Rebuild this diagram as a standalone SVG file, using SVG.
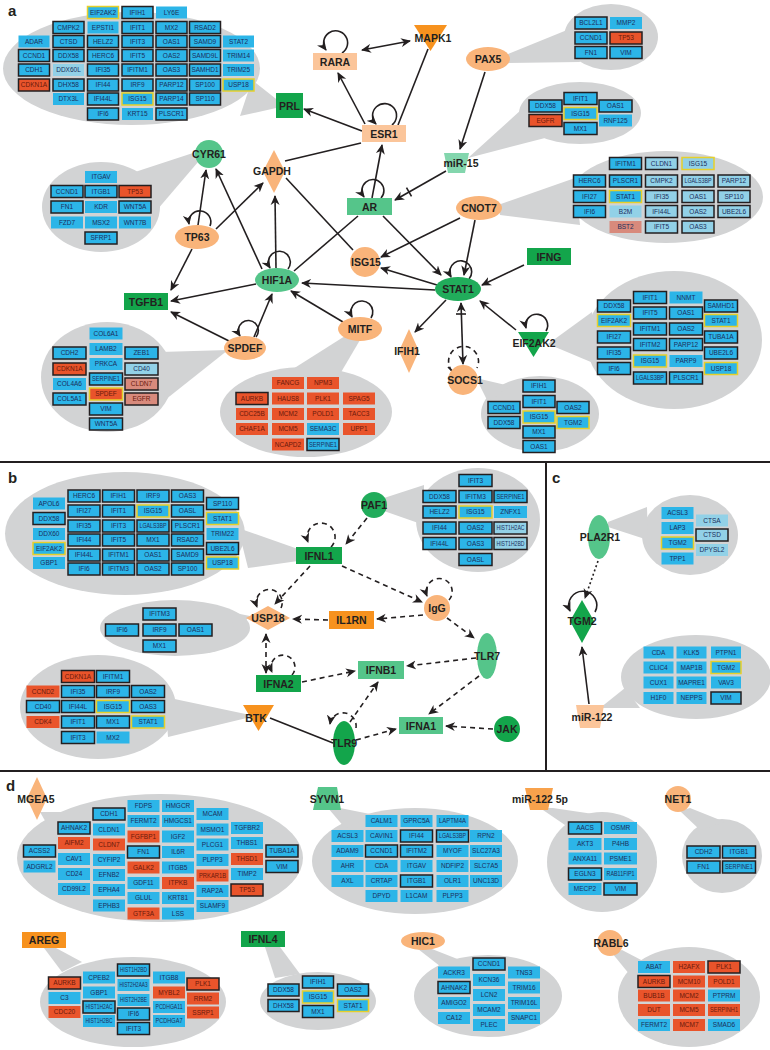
<svg xmlns="http://www.w3.org/2000/svg" width="770" height="1050" viewBox="0 0 770 1050">
<style>
.bub{fill:#d2d3d4}
.b{fill:#2cb5e8}.l{fill:#92d1e7}.r{fill:#e9542b}.s{fill:#d88a7c}
.k{stroke:#231f20;stroke-width:1.5}.y{stroke:#e6d02a;stroke-width:1.5}
g.c text{font-family:"Liberation Sans",Arial,sans-serif;font-size:6.5px;fill:#1b2f5c;text-anchor:middle}
g.c text.w{fill:#6a1a0c}
.n{font-family:"Liberation Sans",Arial,sans-serif;font-size:10.5px;font-weight:bold;fill:#231f20;text-anchor:middle}
.p{font-family:"Liberation Sans",Arial,sans-serif;font-size:15px;font-weight:bold;fill:#231f20}
.e{stroke:#231f20;stroke-width:1.6;fill:none}
.d{stroke-dasharray:5 4}
.o{stroke-dasharray:2 2.5}
.m{marker-end:url(#ah)}
.mm{marker-start:url(#ah);marker-end:url(#ah)}
.dv{stroke:#231f20;stroke-width:2}
.pe{fill:#fbc59a}.or{fill:#f9b47a}.os{fill:#f7921e}.dg{fill:#13a54b}.sg{fill:#21ac5b}.mg{fill:#55c58a}.lg{fill:#83d6ad}.o5{fill:#f8a24c}
</style>
<defs>
<marker id="ah" viewBox="0 0 10 10" refX="9" refY="5" markerWidth="10" markerHeight="10" markerUnits="userSpaceOnUse" orient="auto-start-reverse"><path d="M0,0.5L10,5L0,9.5L3,5z" fill="#231f20"/></marker>
</defs>
<rect width="770" height="1050" fill="#ffffff"/>
<g id="dividers">
<line class="dv" x1="0" y1="462" x2="770" y2="462"/>
<line class="dv" x1="546" y1="462" x2="546" y2="771"/>
<line class="dv" x1="0" y1="771" x2="770" y2="771"/>
</g>
<g id="panel-labels">
<text class="p" x="8" y="16">a</text>
<text class="p" x="8" y="483">b</text>
<text class="p" x="552" y="483">c</text>
<text class="p" x="6" y="791">d</text>
</g>
<g id="connectors">
<path class="e mm" d="M362,50L410,41"/>
<path class="e m" d="M342,53A12,12 0 1 0 326,50"/>
<path class="e m" d="M392,125A12,12 0 1 0 376,124"/>
<path class="e m" d="M365,124L338,73"/>
<path class="e" d="M398,125L428,49"/>
<path class="e m" d="M362,131L304,109"/>
<path class="e m" d="M485,72L460,149"/>
<path class="e m" d="M446,171L395,200"/>
<path class="e" d="M406.5,187.7L411.5,196.3"/>
<path class="e m" d="M381,198A11,11 0 1 0 364,197"/>
<path class="e m" d="M372,198L382,145"/>
<path class="e m" d="M383,216L441,275"/>
<path class="e" d="M358,216L294,271"/>
<path class="e" d="M285,161L361,143"/>
<path class="e" d="M286,178L353,250"/>
<path class="e m" d="M210,226A11,11 0 1 0 189,224"/>
<path class="e m" d="M198,225L206,170"/>
<path class="e m" d="M216,229L263,183"/>
<path class="e m" d="M192,249L171,290"/>
<path class="e m" d="M288,269A11,11 0 1 0 270,268"/>
<path class="e m" d="M276,268L275,196"/>
<path class="e m" d="M262,269L216,169"/>
<path class="e m" d="M256,284L171,301"/>
<path class="e m" d="M435,290L302,283"/>
<path class="e m" d="M254,337L272,294"/>
<path class="e m" d="M256,337A10,10 0 1 0 240,336"/>
<path class="e m" d="M229,341L171,312"/>
<path class="e m" d="M371,318A11,11 0 1 0 352,317"/>
<path class="e m" d="M343,322L291,291"/>
<path class="e m" d="M460,218L381,257"/>
<path class="e m" d="M475,220L464,275"/>
<path class="e m" d="M437,285L381,268"/>
<path class="e m" d="M524,265L482,285"/>
<path class="e m" d="M469,279A11,11 0 1 0 451,277"/>
<path class="e m" d="M446,300L415,332"/>
<path class="e mm" d="M461,303L463,364"/>
<path class="e" d="M456,314L466,314"/>
<path class="e d" d="M452,371A15,15 0 1 1 477,368"/>
<path class="e" d="M448,367L455,374"/>
<path class="e m" d="M546,331A11,11 0 1 0 526,328"/>
<path class="e m" d="M516,330L480,301"/>
<path class="e d m" d="M331,547A14,14 0 1 0 308,542"/>
<path class="e d m" d="M367,518L346,544"/>
<path class="e d m" d="M342,566L422,602"/>
<path class="e d m" d="M449,600A13,13 0 1 0 427,596"/>
<path class="e d m" d="M423,615L377,619"/>
<path class="e d m" d="M328,620L293,619"/>
<path class="e d m" d="M310,566L275,604"/>
<path class="e d m" d="M281,608A13,13 0 1 0 257,607"/>
<path class="e d mm" d="M266,634L266,673"/>
<path class="e d m" d="M292,675A12,12 0 1 0 272,672"/>
<path class="e d m" d="M302,682L355,671"/>
<path class="e d m" d="M476,658L407,666"/>
<path class="e d m" d="M447,618L474,638"/>
<path class="e d m" d="M479,676L429,714"/>
<path class="e d m" d="M493,729L446,726"/>
<path class="e d m" d="M356,728A13,13 0 1 0 330,724"/>
<path class="e d m" d="M350,722L378,682"/>
<path class="e d m" d="M356,740L396,729"/>
<path class="e" d="M270,718L333,743"/>
<path class="e o m" d="M598,561L585,598"/>
<path class="e m" d="M595,612A14,14 0 1 0 570,611"/>
<path class="e m" d="M589,704L582,647"/>
</g>

<g id="node-PRL">
<g class="c">
<ellipse class="bub" cx="131.5" cy="68.5" rx="128.5" ry="56.5"/><polygon class="bub" points="252,80 240,116 285,106"/>
<g transform="translate(34,0)">
<rect class="b" x="-15.5" y="35.5" width="31" height="12"/><text y="43.8">ADAR</text>
<rect class="b k" x="-15.5" y="49.5" width="31" height="12"/><text y="57.8">CCND1</text>
<rect class="b k" x="-15.5" y="64" width="31" height="12"/><text y="72.3">CDH1</text>
<rect class="r k" x="-15.5" y="79" width="31" height="12"/><text class="w" y="87.3">CDKN1A</text>
</g>
<g transform="translate(68.5,0)">
<rect class="b k" x="-15.5" y="21.5" width="31" height="12"/><text y="29.8">CMPK2</text>
<rect class="b k" x="-15.5" y="35.5" width="31" height="12"/><text y="43.8">CTSD</text>
<rect class="b k" x="-15.5" y="49.5" width="31" height="12"/><text y="57.8">DDX58</text>
<rect class="l" x="-15.5" y="64" width="31" height="12"/><text y="72.3">DDX60L</text>
<rect class="b k" x="-15.5" y="79" width="31" height="12"/><text y="87.3">DHX58</text>
<rect class="b" x="-15.5" y="93" width="31" height="12"/><text y="101.3">DTX3L</text>
</g>
<g transform="translate(103,0)">
<rect class="b y" x="-15.5" y="6.5" width="31" height="12"/><text y="14.8">EIF2AK2</text>
<rect class="b" x="-15.5" y="21.5" width="31" height="12"/><text y="29.8">EPSTI1</text>
<rect class="b k" x="-15.5" y="35.5" width="31" height="12"/><text y="43.8">HELZ2</text>
<rect class="b k" x="-15.5" y="49.5" width="31" height="12"/><text y="57.8">HERC6</text>
<rect class="b k" x="-15.5" y="64" width="31" height="12"/><text y="72.3">IFI35</text>
<rect class="b k" x="-15.5" y="79" width="31" height="12"/><text y="87.3">IFI44</text>
<rect class="b k" x="-15.5" y="93" width="31" height="12"/><text y="101.3">IFI44L</text>
<rect class="b k" x="-15.5" y="108" width="31" height="12"/><text y="116.3">IFI6</text>
</g>
<g transform="translate(137.5,0)">
<rect class="b k" x="-15.5" y="6.5" width="31" height="12"/><text y="14.8">IFIH1</text>
<rect class="b k" x="-15.5" y="21.5" width="31" height="12"/><text y="29.8">IFIT1</text>
<rect class="b k" x="-15.5" y="35.5" width="31" height="12"/><text y="43.8">IFIT3</text>
<rect class="b k" x="-15.5" y="49.5" width="31" height="12"/><text y="57.8">IFIT5</text>
<rect class="b k" x="-15.5" y="64" width="31" height="12"/><text y="72.3">IFITM1</text>
<rect class="b k" x="-15.5" y="79" width="31" height="12"/><text y="87.3">IRF9</text>
<rect class="b y" x="-15.5" y="93" width="31" height="12"/><text y="101.3">ISG15</text>
<rect class="b" x="-15.5" y="108" width="31" height="12"/><text y="116.3">KRT15</text>
</g>
<g transform="translate(171.5,0)">
<rect class="b" x="-15.5" y="6.5" width="31" height="12"/><text y="14.8">LY6E</text>
<rect class="b k" x="-15.5" y="21.5" width="31" height="12"/><text y="29.8">MX2</text>
<rect class="b k" x="-15.5" y="35.5" width="31" height="12"/><text y="43.8">OAS1</text>
<rect class="b k" x="-15.5" y="49.5" width="31" height="12"/><text y="57.8">OAS2</text>
<rect class="b k" x="-15.5" y="64" width="31" height="12"/><text y="72.3">OAS3</text>
<rect class="b k" x="-15.5" y="79" width="31" height="12"/><text y="87.3">PARP12</text>
<rect class="b k" x="-15.5" y="93" width="31" height="12"/><text y="101.3">PARP14</text>
<rect class="b k" x="-15.5" y="108" width="31" height="12"/><text y="116.3">PLSCR1</text>
</g>
<g transform="translate(205,0)">
<rect class="b k" x="-15.5" y="21.5" width="31" height="12"/><text y="29.8">RSAD2</text>
<rect class="b k" x="-15.5" y="35.5" width="31" height="12"/><text y="43.8">SAMD9</text>
<rect class="b k" x="-15.5" y="49.5" width="31" height="12"/><text y="57.8">SAMD9L</text>
<rect class="b k" x="-15.5" y="64" width="31" height="12"/><text y="72.3">SAMHD1</text>
<rect class="b k" x="-15.5" y="79" width="31" height="12"/><text y="87.3">SP100</text>
<rect class="b k" x="-15.5" y="93" width="31" height="12"/><text y="101.3">SP110</text>
</g>
<g transform="translate(238.5,0)">
<rect class="b" x="-15.5" y="35.5" width="31" height="12"/><text y="43.8">STAT2</text>
<rect class="b" x="-15.5" y="49.5" width="31" height="12"/><text y="57.8">TRIM14</text>
<rect class="b" x="-15.5" y="64" width="31" height="12"/><text y="72.3">TRIM25</text>
<rect class="b y" x="-15.5" y="79" width="31" height="12"/><text y="87.3">USP18</text>
</g>
</g>
<rect class="dg" x="276" y="93" width="27" height="25"/><text class="n" x="289.5" y="109.5">PRL</text>
</g>

<g id="node-RARA"><rect class="pe" x="313" y="53" width="44" height="17"/><text class="n" x="335" y="65.5">RARA</text></g>
<g id="node-MAPK1"><polygon class="os" points="414,25 447,25 430.5,51"/><text class="n" x="433" y="42">MAPK1</text></g>
<g id="node-ESR1"><rect class="pe" x="362" y="125" width="44" height="17"/><text class="n" x="384" y="137.5">ESR1</text></g>

<g id="node-PAX5">
<g class="c">
<ellipse class="bub" cx="611" cy="37" rx="47" ry="33"/><polygon class="bub" points="508,54 572,28 580,62 508,63"/>
<g transform="translate(591,0)">
<rect class="b k" x="-16" y="17" width="32" height="12"/><text y="25.3">BCL2L1</text>
<rect class="b k" x="-16" y="32" width="32" height="12"/><text y="40.3">CCND1</text>
<rect class="b k" x="-16" y="46.5" width="32" height="12"/><text y="54.8">FN1</text>
</g>
<g transform="translate(626,0)">
<rect class="b" x="-16" y="17" width="32" height="12"/><text y="25.3">MMP2</text>
<rect class="r k" x="-16" y="32" width="32" height="12"/><text class="w" y="40.3">TP53</text>
<rect class="b k" x="-16" y="46.5" width="32" height="12"/><text y="54.8">VIM</text>
</g>
</g>
<ellipse class="or" cx="488" cy="59" rx="22" ry="12"/><text class="n" x="488" y="63">PAX5</text>
</g>

<g id="node-miR-15">
<g class="c">
<ellipse class="bub" cx="580" cy="113" rx="61" ry="31"/><polygon class="bub" points="468,158 532,100 545,138"/>
<g transform="translate(545.5,0)">
<rect class="b k" x="-16.5" y="100" width="33" height="12"/><text y="108.3">DDX58</text>
<rect class="r k" x="-16.5" y="114.5" width="33" height="12"/><text class="w" y="122.8">EGFR</text>
</g>
<g transform="translate(580.5,0)">
<rect class="b k" x="-16.5" y="92.5" width="33" height="12"/><text y="100.8">IFIT1</text>
<rect class="b y" x="-16.5" y="107.5" width="33" height="12"/><text y="115.8">ISG15</text>
<rect class="b k" x="-16.5" y="122.5" width="33" height="12"/><text y="130.8">MX1</text>
</g>
<g transform="translate(615.5,0)">
<rect class="b k" x="-16.5" y="100" width="33" height="12"/><text y="108.3">OAS1</text>
<rect class="b" x="-16.5" y="114.5" width="33" height="12"/><text y="122.8">RNF125</text>
</g>
</g>
<polygon class="lg" points="444,153 469,153 465,173 448,173"/><text class="n" x="461" y="167">miR-15</text>
</g>

<g id="node-AR"><rect class="mg" x="347" y="198" width="45" height="17"/><text class="n" x="369.5" y="210.5">AR</text></g>
<g id="node-GAPDH"><polygon class="or" points="274,150 285,171.5 274,193 263,171.5"/><text class="n" x="272" y="175">GAPDH</text></g>

<g id="node-CNOT7">
<g class="c">
<ellipse class="bub" cx="666" cy="197" rx="97" ry="46"/><polygon class="bub" points="498,205 575,178 580,225 500,215"/>
<g transform="translate(589.5,0)">
<rect class="b k" x="-16" y="175" width="32" height="12"/><text y="183.3">HERC6</text>
<rect class="b k" x="-16" y="190.5" width="32" height="12"/><text y="198.8">IFI27</text>
<rect class="b k" x="-16" y="205.5" width="32" height="12"/><text y="213.8">IFI6</text>
</g>
<g transform="translate(625.5,0)">
<rect class="b k" x="-16" y="157.5" width="32" height="12"/><text y="165.8">IFITM1</text>
<rect class="b k" x="-16" y="175" width="32" height="12"/><text y="183.3">PLSCR1</text>
<rect class="b y" x="-16" y="190.5" width="32" height="12"/><text y="198.8">STAT1</text>
<rect class="l" x="-16" y="205.5" width="32" height="12"/><text y="213.8">B2M</text>
<rect class="s" x="-16" y="221" width="32" height="12"/><text y="229.3">BST2</text>
</g>
<g transform="translate(661.5,0)">
<rect class="l k" x="-16" y="157.5" width="32" height="12"/><text y="165.8">CLDN1</text>
<rect class="l k" x="-16" y="175" width="32" height="12"/><text y="183.3">CMPK2</text>
<rect class="l k" x="-16" y="190.5" width="32" height="12"/><text y="198.8">IFI35</text>
<rect class="l k" x="-16" y="205.5" width="32" height="12"/><text y="213.8">IFI44L</text>
<rect class="l k" x="-16" y="221" width="32" height="12"/><text y="229.3">IFIT5</text>
</g>
<g transform="translate(698,0)">
<rect class="l y" x="-16" y="157.5" width="32" height="12"/><text y="165.8">ISG15</text>
<rect class="l k" x="-16" y="175" width="32" height="12"/><text y="183.3" textLength="27" lengthAdjust="spacingAndGlyphs">LGALS3BP</text>
<rect class="l k" x="-16" y="190.5" width="32" height="12"/><text y="198.8">OAS1</text>
<rect class="l k" x="-16" y="205.5" width="32" height="12"/><text y="213.8">OAS2</text>
<rect class="l k" x="-16" y="221" width="32" height="12"/><text y="229.3">OAS3</text>
</g>
<g transform="translate(734,0)">
<rect class="l k" x="-16" y="175" width="32" height="12"/><text y="183.3">PARP12</text>
<rect class="l k" x="-16" y="190.5" width="32" height="12"/><text y="198.8">SP110</text>
<rect class="l k" x="-16" y="205.5" width="32" height="12"/><text y="213.8">UBE2L6</text>
</g>
</g>
<ellipse class="or" cx="479" cy="208" rx="23" ry="12"/><text class="n" x="479" y="212">CNOT7</text>
</g>

<g id="node-ISG15"><circle class="or" cx="365" cy="262" r="15"/><text class="n" x="366" y="266">ISG15</text></g>
<g id="node-IFNG"><rect class="dg" x="527" y="248" width="44" height="17"/><text class="n" x="549" y="260.5">IFNG</text></g>
<g id="node-STAT1"><ellipse class="sg" cx="458" cy="289" rx="23" ry="12"/><text class="n" x="458" y="293">STAT1</text></g>

<g id="node-CYR61">
<g class="c">
<ellipse class="bub" cx="101" cy="207" rx="59" ry="45"/><polygon class="bub" points="135,172 196,152 198,162 157,210"/>
<g transform="translate(67,0)">
<rect class="b k" x="-16" y="185.5" width="32" height="12"/><text y="193.8">CCND1</text>
<rect class="b k" x="-16" y="201" width="32" height="12"/><text y="209.3">FN1</text>
<rect class="b" x="-16" y="216.5" width="32" height="12"/><text y="224.8">FZD7</text>
</g>
<g transform="translate(101,0)">
<rect class="b" x="-16" y="171" width="32" height="12"/><text y="179.3">ITGAV</text>
<rect class="b k" x="-16" y="185.5" width="32" height="12"/><text y="193.8">ITGB1</text>
<rect class="b" x="-16" y="201" width="32" height="12"/><text y="209.3">KDR</text>
<rect class="b" x="-16" y="216.5" width="32" height="12"/><text y="224.8">MSX2</text>
<rect class="b k" x="-16" y="232" width="32" height="12"/><text y="240.3">SFRP1</text>
</g>
<g transform="translate(135,0)">
<rect class="r k" x="-16" y="185.5" width="32" height="12"/><text class="w" y="193.8">TP53</text>
<rect class="b k" x="-16" y="201" width="32" height="12"/><text y="209.3">WNT5A</text>
<rect class="b" x="-16" y="216.5" width="32" height="12"/><text y="224.8">WNT7B</text>
</g>
</g>
<circle class="mg" cx="209" cy="154" r="14"/><text class="n" x="209" y="158">CYR61</text>
</g>

<g id="node-TP63"><ellipse class="or" cx="197" cy="237" rx="22" ry="12"/><text class="n" x="197" y="241">TP63</text></g>
<g id="node-TGFB1"><rect class="dg" x="124" y="293" width="44" height="17"/><text class="n" x="146" y="305.5">TGFB1</text></g>
<g id="node-HIF1A"><ellipse class="mg" cx="277" cy="280" rx="22" ry="12"/><text class="n" x="277" y="284">HIF1A</text></g>

<g id="node-SPDEF">
<g class="c">
<ellipse class="bub" cx="107" cy="377" rx="66" ry="55"/><polygon class="bub" points="160,352 228,350 165,400"/>
<g transform="translate(69.5,0)">
<rect class="b k" x="-16.5" y="347" width="33" height="12"/><text y="355.3">CDH2</text>
<rect class="r k" x="-16.5" y="363" width="33" height="12"/><text class="w" y="371.3">CDKN1A</text>
<rect class="b" x="-16.5" y="378" width="33" height="12"/><text y="386.3">COL4A6</text>
<rect class="b k" x="-16.5" y="393" width="33" height="12"/><text y="401.3">COL5A1</text>
</g>
<g transform="translate(106,0)">
<rect class="b" x="-16.5" y="327.5" width="33" height="12"/><text y="335.8">COL6A1</text>
<rect class="b" x="-16.5" y="343" width="33" height="12"/><text y="351.3">LAMB2</text>
<rect class="b" x="-16.5" y="358" width="33" height="12"/><text y="366.3">PRKCA</text>
<rect class="b k" x="-16.5" y="373" width="33" height="12"/><text y="381.3" textLength="28" lengthAdjust="spacingAndGlyphs">SERPINE1</text>
<rect class="r y" x="-16.5" y="388" width="33" height="12"/><text class="w" y="396.3">SPDEF</text>
<rect class="b k" x="-16.5" y="403" width="33" height="12"/><text y="411.3">VIM</text>
<rect class="b k" x="-16.5" y="418" width="33" height="12"/><text y="426.3">WNT5A</text>
</g>
<g transform="translate(141.5,0)">
<rect class="b k" x="-16.5" y="347" width="33" height="12"/><text y="355.3">ZEB1</text>
<rect class="l k" x="-16.5" y="363" width="33" height="12"/><text y="371.3">CD40</text>
<rect class="s k" x="-16.5" y="378" width="33" height="12"/><text class="w" y="386.3">CLDN7</text>
<rect class="s k" x="-16.5" y="393" width="33" height="12"/><text class="w" y="401.3">EGFR</text>
</g>
</g>
<ellipse class="or" cx="245" cy="348" rx="21" ry="12"/><text class="n" x="245" y="352">SPDEF</text>
</g>

<g id="node-MITF">
<g class="c">
<ellipse class="bub" cx="306" cy="412" rx="86" ry="45"/><polygon class="bub" points="345,336 360,340 340,374 285,374"/>
<g transform="translate(252,0)">
<rect class="r k" x="-16" y="392.5" width="32" height="12"/><text class="w" y="400.8">AURKB</text>
<rect class="r" x="-16" y="408" width="32" height="12"/><text class="w" y="416.3">CDC25B</text>
<rect class="r" x="-16" y="423" width="32" height="12"/><text class="w" y="431.3">CHAF1A</text>
</g>
<g transform="translate(288,0)">
<rect class="r" x="-16" y="377" width="32" height="12"/><text class="w" y="385.3">FANCG</text>
<rect class="r" x="-16" y="392.5" width="32" height="12"/><text class="w" y="400.8">HAUS8</text>
<rect class="r" x="-16" y="408" width="32" height="12"/><text class="w" y="416.3">MCM2</text>
<rect class="r" x="-16" y="423" width="32" height="12"/><text class="w" y="431.3">MCM5</text>
<rect class="r" x="-16" y="438.5" width="32" height="12"/><text class="w" y="446.8">NCAPD2</text>
</g>
<g transform="translate(323,0)">
<rect class="r" x="-16" y="377" width="32" height="12"/><text class="w" y="385.3">NPM3</text>
<rect class="r" x="-16" y="392.5" width="32" height="12"/><text class="w" y="400.8">PLK1</text>
<rect class="r" x="-16" y="408" width="32" height="12"/><text class="w" y="416.3">POLD1</text>
<rect class="b" x="-16" y="423" width="32" height="12"/><text y="431.3">SEMA3C</text>
<rect class="b k" x="-16" y="438.5" width="32" height="12"/><text y="446.8" textLength="28" lengthAdjust="spacingAndGlyphs">SERPINE1</text>
</g>
<g transform="translate(359,0)">
<rect class="r" x="-16" y="392.5" width="32" height="12"/><text class="w" y="400.8">SPAG5</text>
<rect class="r" x="-16" y="408" width="32" height="12"/><text class="w" y="416.3">TACC3</text>
<rect class="r" x="-16" y="423" width="32" height="12"/><text class="w" y="431.3">UPP1</text>
</g>
</g>
<ellipse class="or" cx="360" cy="329" rx="22" ry="12"/><text class="n" x="360" y="333">MITF</text>
</g>

<g id="node-IFIH1"><polygon class="or" points="409,329 419,351 409,373 399,351"/><text class="n" x="407" y="355">IFIH1</text></g>

<g id="node-SOCS1">
<g class="c">
<ellipse class="bub" cx="540" cy="414" rx="59" ry="38"/><polygon class="bub" points="476,378 510,386 488,402"/>
<g transform="translate(504,0)">
<rect class="b k" x="-16" y="401.5" width="32" height="12"/><text y="409.8">CCND1</text>
<rect class="b k" x="-16" y="416.5" width="32" height="12"/><text y="424.8">DDX58</text>
</g>
<g transform="translate(539,0)">
<rect class="b k" x="-16" y="380" width="32" height="12"/><text y="388.3">IFIH1</text>
<rect class="b k" x="-16" y="395.5" width="32" height="12"/><text y="403.8">IFIT1</text>
<rect class="b y" x="-16" y="411" width="32" height="12"/><text y="419.3">ISG15</text>
<rect class="b k" x="-16" y="426" width="32" height="12"/><text y="434.3">MX1</text>
<rect class="b k" x="-16" y="440.5" width="32" height="12"/><text y="448.8">OAS1</text>
</g>
<g transform="translate(573,0)">
<rect class="b k" x="-16" y="401.5" width="32" height="12"/><text y="409.8">OAS2</text>
<rect class="b y" x="-16" y="416.5" width="32" height="12"/><text y="424.8">TGM2</text>
</g>
</g>
<circle class="or" cx="463" cy="380" r="15"/><text class="n" x="465" y="384">SOCS1</text>
</g>

<g id="node-EIF2AK2">
<g class="c">
<ellipse class="bub" cx="674" cy="340" rx="88" ry="69"/><polygon class="bub" points="548,344 592,312 598,365"/>
<g transform="translate(614,0)">
<rect class="b k" x="-16.5" y="300" width="33" height="12"/><text y="308.3">DDX58</text>
<rect class="b y" x="-16.5" y="314.5" width="33" height="12"/><text y="322.8">EIF2AK2</text>
<rect class="b k" x="-16.5" y="331" width="33" height="12"/><text y="339.3">IFI27</text>
<rect class="b k" x="-16.5" y="347" width="33" height="12"/><text y="355.3">IFI35</text>
<rect class="b k" x="-16.5" y="362.5" width="33" height="12"/><text y="370.8">IFI6</text>
</g>
<g transform="translate(650,0)">
<rect class="b k" x="-16.5" y="291.5" width="33" height="12"/><text y="299.8">IFIT1</text>
<rect class="b k" x="-16.5" y="307" width="33" height="12"/><text y="315.3">IFIT5</text>
<rect class="b k" x="-16.5" y="323" width="33" height="12"/><text y="331.3">IFITM1</text>
<rect class="b k" x="-16.5" y="338.5" width="33" height="12"/><text y="346.8">IFITM2</text>
<rect class="b y" x="-16.5" y="355" width="33" height="12"/><text y="363.3">ISG15</text>
<rect class="b k" x="-16.5" y="372" width="33" height="12"/><text y="380.3" textLength="28" lengthAdjust="spacingAndGlyphs">LGALS3BP</text>
</g>
<g transform="translate(686,0)">
<rect class="b" x="-16.5" y="291.5" width="33" height="12"/><text y="299.8">NNMT</text>
<rect class="b k" x="-16.5" y="307" width="33" height="12"/><text y="315.3">OAS1</text>
<rect class="b k" x="-16.5" y="323" width="33" height="12"/><text y="331.3">OAS2</text>
<rect class="b k" x="-16.5" y="338.5" width="33" height="12"/><text y="346.8">PARP12</text>
<rect class="b" x="-16.5" y="355" width="33" height="12"/><text y="363.3">PARP9</text>
<rect class="b k" x="-16.5" y="372" width="33" height="12"/><text y="380.3">PLSCR1</text>
</g>
<g transform="translate(721,0)">
<rect class="b k" x="-16.5" y="300" width="33" height="12"/><text y="308.3">SAMHD1</text>
<rect class="b y" x="-16.5" y="314.5" width="33" height="12"/><text y="322.8">STAT1</text>
<rect class="b k" x="-16.5" y="331" width="33" height="12"/><text y="339.3">TUBA1A</text>
<rect class="b k" x="-16.5" y="347" width="33" height="12"/><text y="355.3">UBE2L6</text>
<rect class="b y" x="-16.5" y="362.5" width="33" height="12"/><text y="370.8">USP18</text>
</g>
</g>
<polygon class="dg" points="518,332 549,332 533.5,357"/><text class="n" x="534" y="347">EIF2AK2</text>
</g>

<g id="node-IFNL1">
<g class="c">
<ellipse class="bub" cx="125" cy="533.5" rx="120" ry="61.5"/><polygon class="bub" points="238,528 298,549 298,561 248,568"/>
<g transform="translate(49,0)">
<rect class="b" x="-16" y="497.5" width="32" height="12"/><text y="505.8">APOL6</text>
<rect class="b k" x="-16" y="512.5" width="32" height="12"/><text y="520.8">DDX58</text>
<rect class="b" x="-16" y="528" width="32" height="12"/><text y="536.3">DDX60</text>
<rect class="b y" x="-16" y="542.5" width="32" height="12"/><text y="550.8">EIF2AK2</text>
<rect class="b" x="-16" y="557" width="32" height="12"/><text y="565.3">GBP1</text>
</g>
<g transform="translate(84,0)">
<rect class="b k" x="-16" y="490" width="32" height="12"/><text y="498.3">HERC6</text>
<rect class="b k" x="-16" y="505" width="32" height="12"/><text y="513.3">IFI27</text>
<rect class="b k" x="-16" y="520" width="32" height="12"/><text y="528.3">IFI35</text>
<rect class="b k" x="-16" y="534" width="32" height="12"/><text y="542.3">IFI44</text>
<rect class="b k" x="-16" y="549" width="32" height="12"/><text y="557.3">IFI44L</text>
<rect class="b k" x="-16" y="563" width="32" height="12"/><text y="571.3">IFI6</text>
</g>
<g transform="translate(118.5,0)">
<rect class="b k" x="-16" y="490" width="32" height="12"/><text y="498.3">IFIH1</text>
<rect class="b k" x="-16" y="505" width="32" height="12"/><text y="513.3">IFIT1</text>
<rect class="b k" x="-16" y="520" width="32" height="12"/><text y="528.3">IFIT3</text>
<rect class="b k" x="-16" y="534" width="32" height="12"/><text y="542.3">IFIT5</text>
<rect class="b k" x="-16" y="549" width="32" height="12"/><text y="557.3">IFITM1</text>
<rect class="b k" x="-16" y="563" width="32" height="12"/><text y="571.3">IFITM3</text>
</g>
<g transform="translate(153,0)">
<rect class="b k" x="-16" y="490" width="32" height="12"/><text y="498.3">IRF9</text>
<rect class="b y" x="-16" y="505" width="32" height="12"/><text y="513.3">ISG15</text>
<rect class="b k" x="-16" y="520" width="32" height="12"/><text y="528.3" textLength="27" lengthAdjust="spacingAndGlyphs">LGALS3BP</text>
<rect class="b k" x="-16" y="534" width="32" height="12"/><text y="542.3">MX1</text>
<rect class="b k" x="-16" y="549" width="32" height="12"/><text y="557.3">OAS1</text>
<rect class="b k" x="-16" y="563" width="32" height="12"/><text y="571.3">OAS2</text>
</g>
<g transform="translate(187.5,0)">
<rect class="b k" x="-16" y="490" width="32" height="12"/><text y="498.3">OAS3</text>
<rect class="b k" x="-16" y="505" width="32" height="12"/><text y="513.3">OASL</text>
<rect class="b k" x="-16" y="520" width="32" height="12"/><text y="528.3">PLSCR1</text>
<rect class="b k" x="-16" y="534" width="32" height="12"/><text y="542.3">RSAD2</text>
<rect class="b k" x="-16" y="549" width="32" height="12"/><text y="557.3">SAMD9</text>
<rect class="b k" x="-16" y="563" width="32" height="12"/><text y="571.3">SP100</text>
</g>
<g transform="translate(222.5,0)">
<rect class="b k" x="-16" y="497.5" width="32" height="12"/><text y="505.8">SP110</text>
<rect class="b y" x="-16" y="512.5" width="32" height="12"/><text y="520.8">STAT1</text>
<rect class="b" x="-16" y="528" width="32" height="12"/><text y="536.3">TRIM22</text>
<rect class="b k" x="-16" y="542.5" width="32" height="12"/><text y="550.8">UBE2L6</text>
<rect class="b y" x="-16" y="557" width="32" height="12"/><text y="565.3">USP18</text>
</g>
</g>
<rect class="dg" x="296" y="547" width="46" height="17"/><text class="n" x="319" y="559.5">IFNL1</text>
</g>

<g id="node-PAF1">
<g class="c">
<ellipse class="bub" cx="478" cy="520" rx="62" ry="52"/><polygon class="bub" points="384,498 424,485 424,525 384,511"/>
<g transform="translate(439.5,0)">
<rect class="b k" x="-16.5" y="490.5" width="33" height="12"/><text y="498.8">DDX58</text>
<rect class="b k" x="-16.5" y="506" width="33" height="12"/><text y="514.3">HELZ2</text>
<rect class="b k" x="-16.5" y="522" width="33" height="12"/><text y="530.3">IFI44</text>
<rect class="b k" x="-16.5" y="537.5" width="33" height="12"/><text y="545.8">IFI44L</text>
</g>
<g transform="translate(475.5,0)">
<rect class="b k" x="-16.5" y="474.5" width="33" height="12"/><text y="482.8">IFIT3</text>
<rect class="b k" x="-16.5" y="490.5" width="33" height="12"/><text y="498.8">IFITM3</text>
<rect class="b y" x="-16.5" y="506" width="33" height="12"/><text y="514.3">ISG15</text>
<rect class="b k" x="-16.5" y="522" width="33" height="12"/><text y="530.3">OAS2</text>
<rect class="b k" x="-16.5" y="537.5" width="33" height="12"/><text y="545.8">OAS3</text>
<rect class="b k" x="-16.5" y="553.5" width="33" height="12"/><text y="561.8">OASL</text>
</g>
<g transform="translate(510.5,0)">
<rect class="b k" x="-16.5" y="490.5" width="33" height="12"/><text y="498.8" textLength="28" lengthAdjust="spacingAndGlyphs">SERPINE1</text>
<rect class="b" x="-16.5" y="506" width="33" height="12"/><text y="514.3">ZNFX1</text>
<rect class="l k" x="-16.5" y="522" width="33" height="12"/><text y="530.3" textLength="28" lengthAdjust="spacingAndGlyphs">HIST1H2AC</text>
<rect class="l k" x="-16.5" y="537.5" width="33" height="12"/><text y="545.8" textLength="28" lengthAdjust="spacingAndGlyphs">HIST1H2BD</text>
</g>
</g>
<circle class="sg" cx="374" cy="505" r="13"/><text class="n" x="374" y="509">PAF1</text>
</g>

<g id="node-IgG"><circle class="or" cx="437" cy="608" r="13"/><text class="n" x="437" y="612">IgG</text></g>
<g id="node-IL1RN"><rect class="os" x="329" y="611" width="45" height="18"/><text class="n" x="351.5" y="624">IL1RN</text></g>

<g id="node-USP18">
<g class="c">
<ellipse class="bub" cx="175" cy="628" rx="75" ry="28"/><polygon class="bub" points="230,612 250,616 235,632"/>
<rect class="b k" x="143" y="608" width="33" height="12"/><text x="159.5" y="616.3">IFITM3</text>
<rect class="b k" x="105.5" y="624" width="33" height="12"/><text x="122" y="632.3">IFI6</text>
<rect class="b k" x="143" y="624" width="33" height="12"/><text x="159.5" y="632.3">IRF9</text>
<rect class="b k" x="179" y="624" width="33" height="12"/><text x="195.5" y="632.3">OAS1</text>
<rect class="b k" x="143" y="640" width="33" height="12"/><text x="159.5" y="648.3">MX1</text>
</g>
<polygon class="or" points="268,606 290,618 268,630 246,618"/><text class="n" x="268" y="622">USP18</text>
</g>

<g id="node-IFNA2"><rect class="dg" x="256" y="675" width="45" height="17"/><text class="n" x="278.5" y="687.5">IFNA2</text></g>
<g id="node-IFNB1"><rect class="mg" x="358" y="661" width="46" height="18"/><text class="n" x="381" y="674">IFNB1</text></g>
<g id="node-TLR7"><ellipse class="mg" cx="487" cy="656" rx="10" ry="23"/><text class="n" x="487" y="660">TLR7</text></g>
<g id="node-IFNA1"><rect class="mg" x="399" y="717" width="44" height="17"/><text class="n" x="421" y="729.5">IFNA1</text></g>
<g id="node-JAK"><circle class="dg" cx="507" cy="729" r="13"/><text class="n" x="507" y="733">JAK</text></g>
<g id="node-TLR9"><ellipse class="dg" cx="344" cy="743" rx="11" ry="22"/><text class="n" x="344" y="747">TLR9</text></g>

<g id="node-BTK">
<g class="c">
<ellipse class="bub" cx="98" cy="707" rx="78" ry="52"/><polygon class="bub" points="165,697 255,716 168,737"/>
<g transform="translate(43,0)">
<rect class="r" x="-16.5" y="685.5" width="33" height="12"/><text class="w" y="693.8">CCND2</text>
<rect class="b k" x="-16.5" y="700.5" width="33" height="12"/><text y="708.8">CD40</text>
<rect class="r" x="-16.5" y="716" width="33" height="12"/><text class="w" y="724.3">CDK4</text>
</g>
<g transform="translate(78,0)">
<rect class="r k" x="-16.5" y="670.5" width="33" height="12"/><text class="w" y="678.8">CDKN1A</text>
<rect class="b k" x="-16.5" y="685.5" width="33" height="12"/><text y="693.8">IFI35</text>
<rect class="b k" x="-16.5" y="700.5" width="33" height="12"/><text y="708.8">IFI44L</text>
<rect class="b k" x="-16.5" y="716" width="33" height="12"/><text y="724.3">IFIT1</text>
<rect class="b k" x="-16.5" y="731.5" width="33" height="12"/><text y="739.8">IFIT3</text>
</g>
<g transform="translate(113,0)">
<rect class="b k" x="-16.5" y="670.5" width="33" height="12"/><text y="678.8">IFITM1</text>
<rect class="b k" x="-16.5" y="685.5" width="33" height="12"/><text y="693.8">IRF9</text>
<rect class="b y" x="-16.5" y="700.5" width="33" height="12"/><text y="708.8">ISG15</text>
<rect class="b k" x="-16.5" y="716" width="33" height="12"/><text y="724.3">MX1</text>
<rect class="b" x="-16.5" y="731.5" width="33" height="12"/><text y="739.8">MX2</text>
</g>
<g transform="translate(148,0)">
<rect class="b k" x="-16.5" y="685.5" width="33" height="12"/><text y="693.8">OAS2</text>
<rect class="b k" x="-16.5" y="700.5" width="33" height="12"/><text y="708.8">OAS3</text>
<rect class="b y" x="-16.5" y="716" width="33" height="12"/><text y="724.3">STAT1</text>
</g>
</g>
<polygon class="os" points="243,705 274,705 258.5,731"/><text class="n" x="256" y="722">BTK</text>
</g>

<g id="node-PLA2R1">
<g class="c">
<ellipse class="bub" cx="690" cy="535" rx="48" ry="40"/><polygon class="bub" points="608,522 647,507 648,540 608,527"/>
<g transform="translate(677.5,0)">
<rect class="b" x="-16" y="507" width="32" height="12"/><text y="515.3">ACSL3</text>
<rect class="b" x="-16" y="522" width="32" height="12"/><text y="530.3">LAP3</text>
<rect class="b y" x="-16" y="537" width="32" height="12"/><text y="545.3">TGM2</text>
<rect class="b" x="-16" y="552.5" width="32" height="12"/><text y="560.8">TPP1</text>
</g>
<g transform="translate(712,0)">
<rect class="l" x="-16" y="514.5" width="32" height="12"/><text y="522.8">CTSA</text>
<rect class="l k" x="-16" y="529" width="32" height="12"/><text y="537.3">CTSD</text>
<rect class="l" x="-16" y="544" width="32" height="12"/><text y="552.3">DPYSL2</text>
</g>
</g>
<ellipse class="mg" cx="599" cy="537" rx="11" ry="22"/><text class="n" x="600" y="541">PLA2R1</text>
</g>

<g id="node-TGM2"><polygon class="dg" points="582,600 594,621 582,643 570,621"/><text class="n" x="582" y="625">TGM2</text></g>

<g id="node-miR-122">
<g class="c">
<ellipse class="bub" cx="696" cy="677" rx="75" ry="42"/><polygon class="bub" points="600,708 625,688 640,708"/>
<g transform="translate(658.5,0)">
<rect class="b" x="-15" y="646.5" width="30" height="12"/><text y="654.8">CDA</text>
<rect class="b" x="-15" y="661.5" width="30" height="12"/><text y="669.8">CLIC4</text>
<rect class="b" x="-15" y="676.5" width="30" height="12"/><text y="684.8">CUX1</text>
<rect class="b" x="-15" y="692" width="30" height="12"/><text y="700.3">H1F0</text>
</g>
<g transform="translate(691.5,0)">
<rect class="b" x="-15" y="646.5" width="30" height="12"/><text y="654.8">KLK5</text>
<rect class="b" x="-15" y="661.5" width="30" height="12"/><text y="669.8">MAP1B</text>
<rect class="b" x="-15" y="676.5" width="30" height="12"/><text y="684.8">MAPRE1</text>
<rect class="b" x="-15" y="692" width="30" height="12"/><text y="700.3">NEPPS</text>
</g>
<g transform="translate(726,0)">
<rect class="b" x="-15" y="646.5" width="30" height="12"/><text y="654.8">PTPN1</text>
<rect class="b y" x="-15" y="661.5" width="30" height="12"/><text y="669.8">TGM2</text>
<rect class="b" x="-15" y="676.5" width="30" height="12"/><text y="684.8">VAV3</text>
<rect class="b k" x="-15" y="692" width="30" height="12"/><text y="700.3">VIM</text>
</g>
</g>
<polygon class="pe" points="576,705 604,705 600,728 580,728"/><text class="n" x="592" y="721">miR-122</text>
</g>

<g id="node-MGEA5">
<g class="c">
<ellipse class="bub" cx="160" cy="858" rx="143" ry="64"/><polygon class="bub" points="40,812 80,812 55,838"/>
<g transform="translate(39.5,0)">
<rect class="b k" x="-16" y="845" width="32" height="12"/><text y="853.3">ACSS2</text>
<rect class="b" x="-16" y="860.5" width="32" height="12"/><text y="868.8">ADGRL2</text>
</g>
<g transform="translate(74,0)">
<rect class="b k" x="-16" y="822" width="32" height="12"/><text y="830.3">AHNAK2</text>
<rect class="r" x="-16" y="837" width="32" height="12"/><text class="w" y="845.3">AIFM2</text>
<rect class="b" x="-16" y="853" width="32" height="12"/><text y="861.3">CAV1</text>
<rect class="b" x="-16" y="868" width="32" height="12"/><text y="876.3">CD24</text>
<rect class="b" x="-16" y="883" width="32" height="12"/><text y="891.3">CD99L2</text>
</g>
<g transform="translate(109,0)">
<rect class="b k" x="-16" y="808" width="32" height="12"/><text y="816.3">CDH1</text>
<rect class="b" x="-16" y="823.5" width="32" height="12"/><text y="831.8">CLDN1</text>
<rect class="r" x="-16" y="838.5" width="32" height="12"/><text class="w" y="846.8">CLDN7</text>
<rect class="b" x="-16" y="854" width="32" height="12"/><text y="862.3">CYFIP2</text>
<rect class="b" x="-16" y="869" width="32" height="12"/><text y="877.3">EFNB2</text>
<rect class="b" x="-16" y="884" width="32" height="12"/><text y="892.3">EPHA4</text>
<rect class="b" x="-16" y="899.5" width="32" height="12"/><text y="907.8">EPHB3</text>
</g>
<g transform="translate(143.5,0)">
<rect class="b" x="-16" y="800" width="32" height="12"/><text y="808.3">FDPS</text>
<rect class="b" x="-16" y="815" width="32" height="12"/><text y="823.3">FERMT2</text>
<rect class="r" x="-16" y="830.5" width="32" height="12"/><text class="w" y="838.8">FGFBP1</text>
<rect class="b k" x="-16" y="846" width="32" height="12"/><text y="854.3">FN1</text>
<rect class="r" x="-16" y="861.5" width="32" height="12"/><text class="w" y="869.8">GALK2</text>
<rect class="b" x="-16" y="877" width="32" height="12"/><text y="885.3">GDF11</text>
<rect class="b" x="-16" y="892" width="32" height="12"/><text y="900.3">GLUL</text>
<rect class="r" x="-16" y="907.5" width="32" height="12"/><text class="w" y="915.8">GTF3A</text>
</g>
<g transform="translate(178,0)">
<rect class="b" x="-16" y="800" width="32" height="12"/><text y="808.3">HMGCR</text>
<rect class="b" x="-16" y="815" width="32" height="12"/><text y="823.3">HMGCS1</text>
<rect class="b" x="-16" y="830.5" width="32" height="12"/><text y="838.8">IGF2</text>
<rect class="b" x="-16" y="846" width="32" height="12"/><text y="854.3">IL6R</text>
<rect class="b" x="-16" y="861.5" width="32" height="12"/><text y="869.8">ITGB5</text>
<rect class="r" x="-16" y="877" width="32" height="12"/><text class="w" y="885.3">ITPKB</text>
<rect class="b" x="-16" y="892" width="32" height="12"/><text y="900.3">KRT81</text>
<rect class="b" x="-16" y="907.5" width="32" height="12"/><text y="915.8">LSS</text>
</g>
<g transform="translate(212.5,0)">
<rect class="b" x="-16" y="808" width="32" height="12"/><text y="816.3">MCAM</text>
<rect class="b" x="-16" y="823.5" width="32" height="12"/><text y="831.8">MSMO1</text>
<rect class="b" x="-16" y="838.5" width="32" height="12"/><text y="846.8">PLCG1</text>
<rect class="b" x="-16" y="854" width="32" height="12"/><text y="862.3">PLPP3</text>
<rect class="r" x="-16" y="869.5" width="32" height="12"/><text class="w" y="877.8" textLength="27" lengthAdjust="spacingAndGlyphs">PRKAR1B</text>
<rect class="b" x="-16" y="885" width="32" height="12"/><text y="893.3">RAP2A</text>
<rect class="b" x="-16" y="900" width="32" height="12"/><text y="908.3">SLAMF9</text>
</g>
<g transform="translate(247,0)">
<rect class="b" x="-16" y="822" width="32" height="12"/><text y="830.3">TGFBR2</text>
<rect class="b" x="-16" y="837" width="32" height="12"/><text y="845.3">THBS1</text>
<rect class="r" x="-16" y="853" width="32" height="12"/><text class="w" y="861.3">THSD1</text>
<rect class="b" x="-16" y="868" width="32" height="12"/><text y="876.3">TIMP2</text>
<rect class="r k" x="-16" y="884" width="32" height="12"/><text class="w" y="892.3">TP53</text>
</g>
<g transform="translate(282,0)">
<rect class="b k" x="-16" y="845" width="32" height="12"/><text y="853.3">TUBA1A</text>
<rect class="b k" x="-16" y="860.5" width="32" height="12"/><text y="868.8">VIM</text>
</g>
</g>
<polygon class="or" points="37,777 47,798.5 37,820 27,798.5"/><text class="n" x="36" y="803">MGEA5</text>
</g>

<g id="node-SYVN1">
<g class="c">
<ellipse class="bub" cx="415" cy="861" rx="103" ry="53"/><polygon class="bub" points="328,808 340,808 375,815 345,828"/>
<g transform="translate(347.5,0)">
<rect class="b" x="-16" y="830" width="32" height="12"/><text y="838.3">ACSL3</text>
<rect class="b" x="-16" y="845" width="32" height="12"/><text y="853.3">ADAM9</text>
<rect class="b" x="-16" y="860" width="32" height="12"/><text y="868.3">AHR</text>
<rect class="b" x="-16" y="875" width="32" height="12"/><text y="883.3">AXL</text>
</g>
<g transform="translate(381.5,0)">
<rect class="b" x="-16" y="815" width="32" height="12"/><text y="823.3">CALM1</text>
<rect class="b" x="-16" y="830" width="32" height="12"/><text y="838.3">CAVIN1</text>
<rect class="b k" x="-16" y="845" width="32" height="12"/><text y="853.3">CCND1</text>
<rect class="b" x="-16" y="860" width="32" height="12"/><text y="868.3">CDA</text>
<rect class="b" x="-16" y="875" width="32" height="12"/><text y="883.3">CRTAP</text>
<rect class="b" x="-16" y="890" width="32" height="12"/><text y="898.3">DPYD</text>
</g>
<g transform="translate(416.5,0)">
<rect class="b" x="-16" y="815" width="32" height="12"/><text y="823.3">GPRC5A</text>
<rect class="b k" x="-16" y="830" width="32" height="12"/><text y="838.3">IFI44</text>
<rect class="b k" x="-16" y="845" width="32" height="12"/><text y="853.3">IFITM2</text>
<rect class="b" x="-16" y="860" width="32" height="12"/><text y="868.3">ITGAV</text>
<rect class="b k" x="-16" y="875" width="32" height="12"/><text y="883.3">ITGB1</text>
<rect class="b" x="-16" y="890" width="32" height="12"/><text y="898.3">L1CAM</text>
</g>
<g transform="translate(452.5,0)">
<rect class="b" x="-16" y="815" width="32" height="12"/><text y="823.3" textLength="27" lengthAdjust="spacingAndGlyphs">LAPTM4A</text>
<rect class="b k" x="-16" y="830" width="32" height="12"/><text y="838.3" textLength="27" lengthAdjust="spacingAndGlyphs">LGALS3BP</text>
<rect class="b" x="-16" y="845" width="32" height="12"/><text y="853.3">MYOF</text>
<rect class="b" x="-16" y="860" width="32" height="12"/><text y="868.3">NDFIP2</text>
<rect class="b" x="-16" y="875" width="32" height="12"/><text y="883.3">OLR1</text>
<rect class="b" x="-16" y="890" width="32" height="12"/><text y="898.3">PLPP3</text>
</g>
<g transform="translate(486,0)">
<rect class="b" x="-16" y="830" width="32" height="12"/><text y="838.3">RPN2</text>
<rect class="b" x="-16" y="845" width="32" height="12"/><text y="853.3">SLC27A3</text>
<rect class="b" x="-16" y="860" width="32" height="12"/><text y="868.3">SLC7A5</text>
<rect class="b" x="-16" y="875" width="32" height="12"/><text y="883.3">UNC13D</text>
</g>
</g>
<polygon class="mg" points="318,787 337,787 341,810 313,810"/><text class="n" x="327" y="803">SYVN1</text>
</g>

<g id="node-miR-122-5p">
<g class="c">
<ellipse class="bub" cx="602" cy="862" rx="55" ry="50"/><polygon class="bub" points="540,808 553,808 600,815 565,825"/>
<g transform="translate(585,0)">
<rect class="b k" x="-16.5" y="822" width="33" height="12"/><text y="830.3">AACS</text>
<rect class="b" x="-16.5" y="838" width="33" height="12"/><text y="846.3">AKT3</text>
<rect class="b" x="-16.5" y="852.5" width="33" height="12"/><text y="860.8">ANXA11</text>
<rect class="b k" x="-16.5" y="868" width="33" height="12"/><text y="876.3">EGLN3</text>
<rect class="b" x="-16.5" y="883" width="33" height="12"/><text y="891.3">MECP2</text>
</g>
<g transform="translate(620.5,0)">
<rect class="b" x="-16.5" y="822" width="33" height="12"/><text y="830.3">OSMR</text>
<rect class="b" x="-16.5" y="838" width="33" height="12"/><text y="846.3">P4HB</text>
<rect class="b" x="-16.5" y="852.5" width="33" height="12"/><text y="860.8">PSME1</text>
<rect class="b" x="-16.5" y="868" width="33" height="12"/><text y="876.3" textLength="28" lengthAdjust="spacingAndGlyphs">RAB11FIP1</text>
<rect class="b k" x="-16.5" y="883" width="33" height="12"/><text y="891.3">VIM</text>
</g>
</g>
<polygon class="o5" points="525,788 553,788 548,810 530,810"/><text class="n" x="540" y="803">miR-122 5p</text>
</g>

<g id="node-NET1">
<g class="c">
<ellipse class="bub" cx="722" cy="856" rx="40" ry="37"/><polygon class="bub" points="680,811 690,808 725,822 700,830"/>
<rect class="b k" x="687" y="846" width="33" height="12"/><text x="703.5" y="854.3">CDH2</text>
<rect class="b k" x="722.5" y="846" width="33" height="12"/><text x="739" y="854.3">ITGB1</text>
<rect class="b k" x="687" y="861" width="33" height="12"/><text x="703.5" y="869.3">FN1</text>
<rect class="b k" x="722.5" y="861" width="33" height="12"/><text x="739" y="869.3" textLength="28" lengthAdjust="spacingAndGlyphs">SERPINE1</text>
</g>
<circle class="or" cx="678" cy="799" r="13"/><text class="n" x="678" y="803">NET1</text>
</g>

<g id="node-AREG">
<g class="c">
<ellipse class="bub" cx="133" cy="1002" rx="93" ry="45"/><polygon class="bub" points="44,948 56,948 82,962 62,972"/>
<g transform="translate(64.5,0)">
<rect class="r k" x="-16" y="977" width="32" height="12"/><text class="w" y="985.3">AURKB</text>
<rect class="b" x="-16" y="992" width="32" height="12"/><text y="1000.3">C3</text>
<rect class="r" x="-16" y="1006" width="32" height="12"/><text class="w" y="1014.3">CDC20</text>
</g>
<g transform="translate(99,0)">
<rect class="b" x="-16" y="971.5" width="32" height="12"/><text y="979.8">CPEB2</text>
<rect class="b" x="-16" y="986.5" width="32" height="12"/><text y="994.8">GBP1</text>
<rect class="b k" x="-16" y="1001" width="32" height="12"/><text y="1009.3" textLength="27" lengthAdjust="spacingAndGlyphs">HIST1H2AC</text>
<rect class="b" x="-16" y="1015" width="32" height="12"/><text y="1023.3" textLength="27" lengthAdjust="spacingAndGlyphs">HIST1H2BC</text>
</g>
<g transform="translate(133.5,0)">
<rect class="b k" x="-16" y="964" width="32" height="12"/><text y="972.3" textLength="27" lengthAdjust="spacingAndGlyphs">HIST1H2BD</text>
<rect class="b" x="-16" y="979" width="32" height="12"/><text y="987.3" textLength="28" lengthAdjust="spacingAndGlyphs">HIST2H2AA3</text>
<rect class="b" x="-16" y="994" width="32" height="12"/><text y="1002.3" textLength="27" lengthAdjust="spacingAndGlyphs">HIST2H2BE</text>
<rect class="b k" x="-16" y="1008" width="32" height="12"/><text y="1016.3">IFI6</text>
<rect class="b k" x="-16" y="1022.5" width="32" height="12"/><text y="1030.8">IFIT3</text>
</g>
<g transform="translate(169,0)">
<rect class="b" x="-16" y="971.5" width="32" height="12"/><text y="979.8">ITGB8</text>
<rect class="r" x="-16" y="986.5" width="32" height="12"/><text class="w" y="994.8">MYBL2</text>
<rect class="b" x="-16" y="1001" width="32" height="12"/><text y="1009.3" textLength="27" lengthAdjust="spacingAndGlyphs">PCDHGA11</text>
<rect class="b" x="-16" y="1015" width="32" height="12"/><text y="1023.3" textLength="27" lengthAdjust="spacingAndGlyphs">PCDHGA7</text>
</g>
<g transform="translate(203,0)">
<rect class="r k" x="-16" y="978" width="32" height="12"/><text class="w" y="986.3">PLK1</text>
<rect class="r" x="-16" y="992.5" width="32" height="12"/><text class="w" y="1000.8">RRM2</text>
<rect class="r" x="-16" y="1006.5" width="32" height="12"/><text class="w" y="1014.8">SSRP1</text>
</g>
</g>
<rect class="os" x="22" y="932" width="44" height="16"/><text class="n" x="44" y="944">AREG</text>
</g>

<g id="node-IFNL4">
<g class="c">
<ellipse class="bub" cx="318" cy="1001" rx="58" ry="29"/><polygon class="bub" points="265,947 280,947 300,974 275,978"/>
<g transform="translate(283.5,0)">
<rect class="b k" x="-15.5" y="984" width="31" height="12"/><text y="992.3">DDX58</text>
<rect class="b k" x="-15.5" y="999.5" width="31" height="12"/><text y="1007.8">DHX58</text>
</g>
<g transform="translate(318,0)">
<rect class="b k" x="-15.5" y="976" width="31" height="12"/><text y="984.3">IFIH1</text>
<rect class="b y" x="-15.5" y="991" width="31" height="12"/><text y="999.3">ISG15</text>
<rect class="b k" x="-15.5" y="1005.5" width="31" height="12"/><text y="1013.8">MX1</text>
</g>
<g transform="translate(353,0)">
<rect class="b k" x="-15.5" y="984" width="31" height="12"/><text y="992.3">OAS2</text>
<rect class="b y" x="-15.5" y="999.5" width="31" height="12"/><text y="1007.8">STAT1</text>
</g>
</g>
<rect class="dg" x="241" y="931" width="44" height="16"/><text class="n" x="263" y="943">IFNL4</text>
</g>

<g id="node-HIC1">
<g class="c">
<ellipse class="bub" cx="488" cy="996" rx="74" ry="41"/><polygon class="bub" points="418,949 432,949 460,960 445,970"/>
<g transform="translate(454,0)">
<rect class="b" x="-16" y="966.5" width="32" height="12"/><text y="974.8">ACKR3</text>
<rect class="b k" x="-16" y="981.5" width="32" height="12"/><text y="989.8">AHNAK2</text>
<rect class="b" x="-16" y="997" width="32" height="12"/><text y="1005.3">AMIGO2</text>
<rect class="b" x="-16" y="1012" width="32" height="12"/><text y="1020.3">CA12</text>
</g>
<g transform="translate(489,0)">
<rect class="b k" x="-16" y="958" width="32" height="12"/><text y="966.3">CCND1</text>
<rect class="b" x="-16" y="974" width="32" height="12"/><text y="982.3">KCN36</text>
<rect class="b" x="-16" y="989" width="32" height="12"/><text y="997.3">LCN2</text>
<rect class="b" x="-16" y="1004" width="32" height="12"/><text y="1012.3">MCAM2</text>
<rect class="b" x="-16" y="1019" width="32" height="12"/><text y="1027.3">PLEC</text>
</g>
<g transform="translate(524,0)">
<rect class="b" x="-16" y="966.5" width="32" height="12"/><text y="974.8">TNS3</text>
<rect class="b" x="-16" y="981.5" width="32" height="12"/><text y="989.8">TRIM16</text>
<rect class="b" x="-16" y="997" width="32" height="12"/><text y="1005.3">TRIM16L</text>
<rect class="b" x="-16" y="1012" width="32" height="12"/><text y="1020.3">SNAPC1</text>
</g>
</g>
<ellipse class="or" cx="423" cy="941" rx="22" ry="9"/><text class="n" x="423" y="945">HIC1</text>
</g>

<g id="node-RABL6">
<g class="c">
<ellipse class="bub" cx="689" cy="997" rx="71" ry="50"/><polygon class="bub" points="612,953 622,950 645,962 630,975"/>
<g transform="translate(654,0)">
<rect class="b" x="-16" y="961" width="32" height="12"/><text y="969.3">ABAT</text>
<rect class="r k" x="-16" y="975.5" width="32" height="12"/><text class="w" y="983.8">AURKB</text>
<rect class="r" x="-16" y="989.5" width="32" height="12"/><text class="w" y="997.8">BUB1B</text>
<rect class="r" x="-16" y="1004" width="32" height="12"/><text class="w" y="1012.3">DUT</text>
<rect class="b" x="-16" y="1019" width="32" height="12"/><text y="1027.3">FERMT2</text>
</g>
<g transform="translate(689,0)">
<rect class="r" x="-16" y="961" width="32" height="12"/><text class="w" y="969.3">H2AFX</text>
<rect class="r" x="-16" y="975.5" width="32" height="12"/><text class="w" y="983.8">MCM10</text>
<rect class="r" x="-16" y="989.5" width="32" height="12"/><text class="w" y="997.8">MCM2</text>
<rect class="r" x="-16" y="1004" width="32" height="12"/><text class="w" y="1012.3">MCM5</text>
<rect class="r" x="-16" y="1019" width="32" height="12"/><text class="w" y="1027.3">MCM7</text>
</g>
<g transform="translate(724,0)">
<rect class="r k" x="-16" y="961" width="32" height="12"/><text class="w" y="969.3">PLK1</text>
<rect class="r" x="-16" y="975.5" width="32" height="12"/><text class="w" y="983.8">POLD1</text>
<rect class="b" x="-16" y="989.5" width="32" height="12"/><text y="997.8">PTPRM</text>
<rect class="r" x="-16" y="1004" width="32" height="12"/><text class="w" y="1012.3" textLength="28" lengthAdjust="spacingAndGlyphs">SERPINH1</text>
<rect class="b" x="-16" y="1019" width="32" height="12"/><text y="1027.3">SMAD6</text>
</g>
</g>
<circle class="or" cx="610" cy="943" r="13"/><text class="n" x="611" y="947">RABL6</text>
</g>
</svg>
